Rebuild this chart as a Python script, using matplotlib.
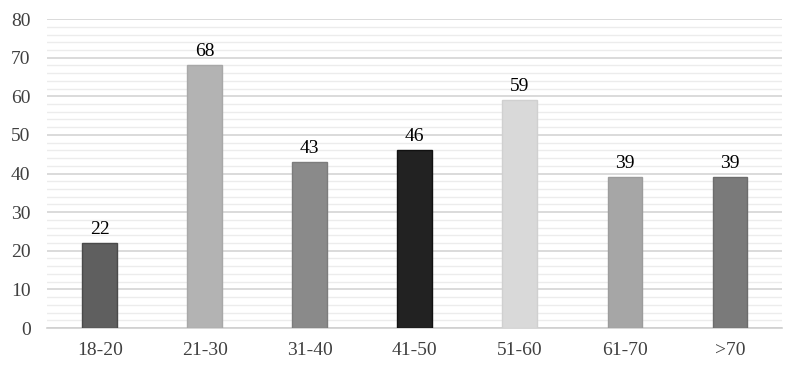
import matplotlib
matplotlib.use("Agg")
import matplotlib.pyplot as plt
from matplotlib.ticker import MultipleLocator

categories = ["18-20", "21-30", "31-40", "41-50", "51-60", "61-70", ">70"]
values = [22, 68, 43, 46, 59, 39, 39]
colors = ["#5f5f5f", "#b3b3b3", "#8a8a8a", "#222222", "#d9d9d9", "#a6a6a6", "#7a7a7a"]
edges = ["#4a4a4a", "#a8a8a8", "#7c7c7c", "#111111", "#d0d0d0", "#9c9c9c", "#6c6c6c"]

plt.rcParams['font.family'] = ['Liberation Serif', 'DejaVu Serif']

fig = plt.figure(figsize=(8, 3.7), dpi=100)
ax = fig.add_axes([0.059, 0.1135, 0.919, 0.835])

x = range(len(categories))
ax.bar(x, values, width=0.33, color=colors, edgecolor=edges, linewidth=1, zorder=3)
for xi, v in zip(x, values):
    ax.text(xi, v + 1.3, str(v), ha="center", va="bottom", fontsize=14, color="black")

ax.set_xlim(-0.5, len(categories) - 0.5)
ax.set_ylim(0, 80)
ax.yaxis.set_major_locator(MultipleLocator(10))
ax.yaxis.set_minor_locator(MultipleLocator(2))
ax.grid(axis="y", which="major", color="#d4d4d4", linewidth=1.2, zorder=0)
ax.grid(axis="y", which="minor", color="#ececec", linewidth=1.0, zorder=0)
ax.set_xticks(list(x))
ax.set_xticklabels(categories)
ax.tick_params(axis="both", which="both", length=0, labelsize=14, colors="#404040")
ax.tick_params(axis="x", pad=10)
ax.tick_params(axis="y", pad=12)
for s in ["top", "right", "left"]:
    ax.spines[s].set_visible(False)
ax.spines["bottom"].set_color("#d0d0d0")
ax.spines["bottom"].set_linewidth(1.2)

fig.savefig("out.png", dpi=100)
